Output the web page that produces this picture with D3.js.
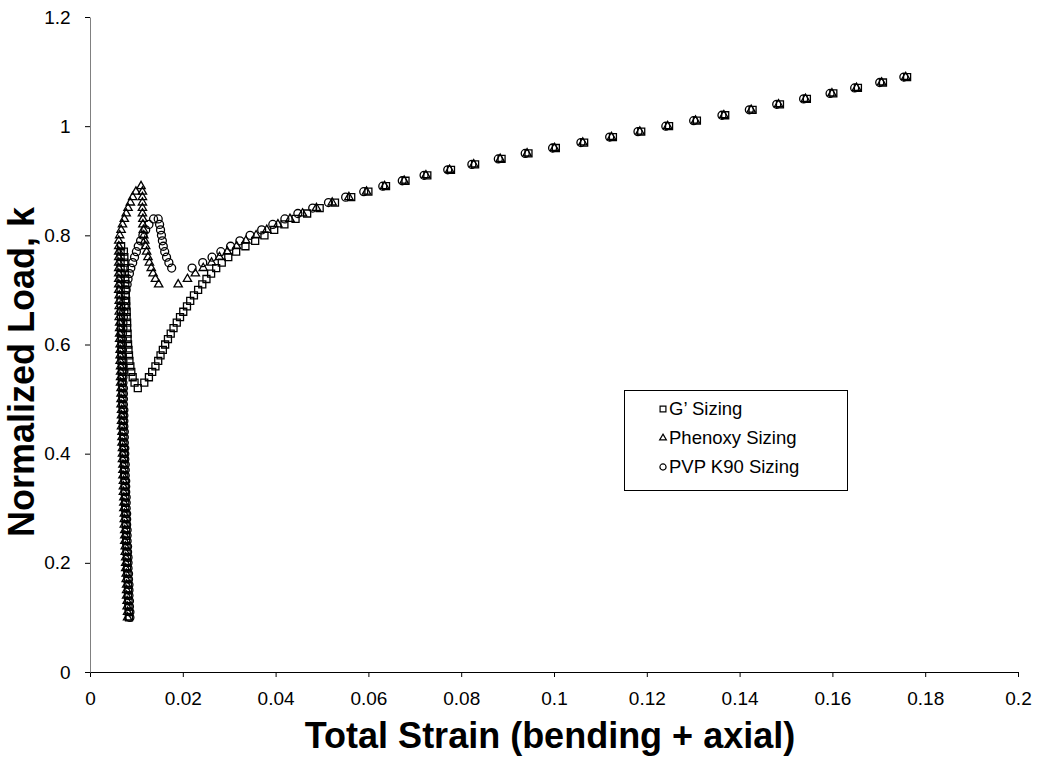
<!DOCTYPE html>
<html>
<head>
<meta charset="utf-8">
<script src="https://cdn.jsdelivr.net/npm/d3@7"></script>
<style>
  body { margin: 0; background: #fff; }
  svg { font-family: Arial, "Liberation Sans", sans-serif; }
</style>
</head>
<body>
<div id="root"></div>
<script>
// [strain, load] pairs
const gSizing = [
  [0.0084,0.10],[0.0084,0.11],[0.0083,0.12],[0.0083,0.13],[0.0082,0.14],[0.0082,0.15],[0.0082,0.16],[0.0081,0.17],
  [0.0081,0.18],[0.0080,0.19],[0.0080,0.20],[0.0080,0.21],[0.0079,0.22],[0.0079,0.23],[0.0078,0.24],[0.0078,0.25],
  [0.0078,0.26],[0.0077,0.27],[0.0077,0.28],[0.0077,0.29],[0.0076,0.30],[0.0076,0.31],[0.0076,0.32],[0.0075,0.33],
  [0.0075,0.34],[0.0075,0.35],[0.0074,0.36],[0.0074,0.37],[0.0074,0.38],[0.0073,0.39],[0.0073,0.40],[0.0073,0.41],
  [0.0072,0.42],[0.0072,0.43],[0.0072,0.44],[0.0071,0.45],[0.0071,0.46],[0.0071,0.47],[0.0071,0.48],[0.0070,0.49],
  [0.0070,0.50],[0.0070,0.51],[0.0070,0.52],[0.0069,0.53],[0.0069,0.54],[0.0069,0.55],[0.0069,0.56],[0.0068,0.57],
  [0.0068,0.58],[0.0068,0.59],[0.0068,0.60],[0.0068,0.61],[0.0067,0.62],[0.0067,0.63],[0.0067,0.64],[0.0067,0.65],
  [0.0067,0.66],[0.0067,0.67],[0.0066,0.68],[0.0066,0.69],[0.0066,0.70],[0.0066,0.71],[0.0066,0.72],[0.0066,0.73],
  [0.0066,0.74],[0.0066,0.75],[0.0066,0.76],[0.0066,0.77],[0.0067,0.78],
  [0.0073,0.77],[0.0074,0.76],[0.0074,0.75],[0.0075,0.74],[0.0075,0.73],[0.0076,0.72],[0.0076,0.71],[0.0077,0.70],
  [0.0077,0.69],[0.0078,0.68],[0.0078,0.67],[0.0079,0.66],[0.0079,0.65],[0.0080,0.64],[0.0080,0.63],[0.0081,0.62],
  [0.0081,0.61],[0.0082,0.60],[0.0083,0.59],[0.0084,0.58],[0.0085,0.57],[0.0087,0.56],[0.0089,0.55],[0.0092,0.54],
  [0.0096,0.53],[0.0103,0.52],
  [0.0117,0.53],[0.0127,0.54],[0.0134,0.55],[0.0141,0.56],[0.0147,0.57],[0.0152,0.58],[0.0157,0.59],[0.0162,0.60],
  [0.0168,0.61],[0.0174,0.62],[0.0180,0.63],[0.0187,0.64],[0.0194,0.65],[0.0201,0.66],[0.0209,0.67],[0.0216,0.68],
  [0.0224,0.69],[0.0233,0.70],[0.0242,0.71],[0.0251,0.72],[0.0261,0.73],[0.0272,0.74],[0.0284,0.75],[0.0298,0.76],
  [0.0315,0.77],[0.0335,0.78],[0.0356,0.79],[0.0376,0.80],[0.0397,0.81],[0.0419,0.82],[0.0443,0.83],[0.0468,0.84],
  [0.0495,0.85],[0.0528,0.86],[0.0563,0.87],[0.0600,0.88],[0.0638,0.89],[0.0680,0.90],[0.0727,0.91],[0.0778,0.92],
  [0.0830,0.93],[0.0887,0.94],[0.0945,0.95],[0.1004,0.96],[0.1065,0.97],[0.1127,0.98],[0.1188,0.99],[0.1248,1.00],
  [0.1308,1.01],[0.1369,1.02],[0.1428,1.03],[0.1487,1.04],[0.1545,1.05],[0.1602,1.06],[0.1655,1.07],[0.1709,1.08],
  [0.1761,1.09]
];

const phenoxySizing = [
  [0.0081,0.10],[0.0081,0.11],[0.0080,0.12],[0.0080,0.13],[0.0079,0.14],[0.0079,0.15],[0.0079,0.16],[0.0078,0.17],
  [0.0078,0.18],[0.0077,0.19],[0.0077,0.20],[0.0077,0.21],[0.0076,0.22],[0.0076,0.23],[0.0075,0.24],[0.0075,0.25],
  [0.0075,0.26],[0.0074,0.27],[0.0074,0.28],[0.0074,0.29],[0.0073,0.30],[0.0073,0.31],[0.0073,0.32],[0.0072,0.33],
  [0.0072,0.34],[0.0072,0.35],[0.0071,0.36],[0.0071,0.37],[0.0071,0.38],[0.0070,0.39],[0.0070,0.40],[0.0070,0.41],
  [0.0069,0.42],[0.0069,0.43],[0.0069,0.44],[0.0068,0.45],[0.0068,0.46],[0.0068,0.47],[0.0068,0.48],[0.0067,0.49],
  [0.0067,0.50],[0.0067,0.51],[0.0067,0.52],[0.0066,0.53],[0.0066,0.54],[0.0066,0.55],[0.0066,0.56],[0.0065,0.57],
  [0.0065,0.58],[0.0065,0.59],[0.0065,0.60],[0.0064,0.61],[0.0064,0.62],[0.0064,0.63],[0.0064,0.64],[0.0063,0.65],
  [0.0063,0.66],[0.0063,0.67],[0.0063,0.68],[0.0063,0.69],[0.0062,0.70],[0.0062,0.71],[0.0062,0.72],[0.0062,0.73],
  [0.0062,0.74],[0.0062,0.75],[0.0062,0.76],[0.0062,0.77],[0.0062,0.78],
  [0.0062,0.79],[0.0064,0.80],[0.0067,0.81],[0.0070,0.82],[0.0074,0.83],[0.0078,0.84],[0.0082,0.85],[0.0087,0.86],
  [0.0092,0.87],[0.0099,0.88],[0.0110,0.89],
  [0.0113,0.88],[0.0113,0.87],[0.0113,0.86],[0.0113,0.85],[0.0113,0.84],[0.0114,0.83],[0.0114,0.82],[0.0115,0.81],
  [0.0116,0.80],[0.0118,0.79],[0.0120,0.78],[0.0122,0.77],[0.0125,0.76],[0.0128,0.75],[0.0132,0.74],[0.0136,0.73],
  [0.0141,0.72],[0.0148,0.71],
  [0.0190,0.71],[0.0210,0.72],[0.0227,0.73],[0.0244,0.74],[0.0262,0.75],[0.0279,0.76],[0.0296,0.77],[0.0316,0.78],
  [0.0336,0.79],[0.0358,0.80],[0.0381,0.81],[0.0405,0.82],[0.0431,0.83],[0.0458,0.84],[0.0488,0.85],[0.0522,0.86],
  [0.0558,0.87],[0.0596,0.88],[0.0635,0.89],[0.0677,0.90],[0.0724,0.91],[0.0775,0.92],[0.0827,0.93],[0.0884,0.94],
  [0.0942,0.95],[0.1001,0.96],[0.1062,0.97],[0.1124,0.98],[0.1185,0.99],[0.1245,1.00],[0.1305,1.01],[0.1366,1.02],
  [0.1425,1.03],[0.1484,1.04],[0.1542,1.05],[0.1599,1.06],[0.1652,1.07],[0.1706,1.08],[0.1758,1.09]
];

const pvpSizing = [
  [0.0086,0.10],[0.0086,0.11],[0.0085,0.12],[0.0085,0.13],[0.0084,0.14],[0.0084,0.15],[0.0084,0.16],[0.0083,0.17],
  [0.0083,0.18],[0.0082,0.19],[0.0082,0.20],[0.0082,0.21],[0.0081,0.22],[0.0081,0.23],[0.0080,0.24],[0.0080,0.25],
  [0.0080,0.26],[0.0079,0.27],[0.0079,0.28],[0.0079,0.29],[0.0078,0.30],[0.0078,0.31],[0.0078,0.32],[0.0077,0.33],
  [0.0077,0.34],[0.0077,0.35],[0.0076,0.36],[0.0076,0.37],[0.0076,0.38],[0.0075,0.39],[0.0075,0.40],[0.0075,0.41],
  [0.0074,0.42],[0.0074,0.43],[0.0074,0.44],[0.0073,0.45],[0.0073,0.46],[0.0073,0.47],[0.0073,0.48],[0.0072,0.49],
  [0.0072,0.50],[0.0072,0.51],[0.0072,0.52],[0.0071,0.53],[0.0071,0.54],[0.0071,0.55],[0.0071,0.56],[0.0071,0.57],
  [0.0070,0.58],[0.0070,0.59],[0.0070,0.60],[0.0070,0.61],[0.0070,0.62],[0.0071,0.63],[0.0071,0.64],[0.0072,0.65],
  [0.0073,0.66],[0.0074,0.67],[0.0075,0.68],[0.0076,0.69],
  [0.0078,0.70],[0.0080,0.71],[0.0082,0.72],[0.0085,0.73],[0.0088,0.74],[0.0092,0.75],[0.0096,0.76],[0.0100,0.77],
  [0.0104,0.78],[0.0109,0.79],[0.0114,0.80],[0.0120,0.81],[0.0127,0.82],[0.0137,0.83],[0.0147,0.83],
  [0.0150,0.82],[0.0152,0.81],[0.0154,0.80],[0.0156,0.79],[0.0158,0.78],[0.0161,0.77],[0.0165,0.76],[0.0170,0.75],
  [0.0176,0.74],
  [0.0220,0.74],[0.0243,0.75],[0.0263,0.76],[0.0282,0.77],[0.0303,0.78],[0.0323,0.79],[0.0345,0.80],[0.0370,0.81],
  [0.0394,0.82],[0.0420,0.83],[0.0448,0.84],[0.0480,0.85],[0.0514,0.86],[0.0551,0.87],[0.0590,0.88],[0.0631,0.89],
  [0.0673,0.90],[0.0720,0.91],[0.0771,0.92],[0.0823,0.93],[0.0880,0.94],[0.0938,0.95],[0.0997,0.96],[0.1058,0.97],
  [0.1120,0.98],[0.1181,0.99],[0.1241,1.00],[0.1301,1.01],[0.1362,1.02],[0.1421,1.03],[0.1480,1.04],[0.1538,1.05],
  [0.1595,1.06],[0.1648,1.07],[0.1702,1.08],[0.1754,1.09]
];

const seriesNames = ['G\u2019 Sizing', 'Phenoxy Sizing', 'PVP K90 Sizing'];
const xTicks = [0, 0.02, 0.04, 0.06, 0.08, 0.1, 0.12, 0.14, 0.16, 0.18, 0.2];
const yTicks = [0, 0.2, 0.4, 0.6, 0.8, 1, 1.2];

const width = 1038, height = 757;
const margin = { left: 90, right: 20, top: 17, bottom: 85 };

const svg = d3.select('#root').append('svg')
  .attr('width', width)
  .attr('height', height);

const x = d3.scaleLinear().domain([0, 0.2]).range([margin.left, width - margin.right]);
const y = d3.scaleLinear().domain([0, 1.2]).range([height - margin.bottom, margin.top]);

// axes
const xAxis = svg.append('g')
  .attr('transform', `translate(0, ${y(0)})`)
  .call(d3.axisBottom(x).tickValues(xTicks).tickFormat(d => String(d)).tickSize(5).tickSizeOuter(0));
xAxis.select('.domain').attr('stroke', '#000');
xAxis.selectAll('text').attr('font-size', 19).attr('fill', '#000').attr('dy', '1.3em');

const yAxis = svg.append('g')
  .attr('transform', `translate(${x(0)}, 0)`)
  .call(d3.axisLeft(y).tickValues(yTicks).tickFormat(d => String(d)).tickSize(5).tickSizeOuter(0));
yAxis.select('.domain').attr('stroke', '#808080');
yAxis.selectAll('text').attr('font-size', 19).attr('fill', '#000').attr('dx', '-0.6em');

// axis titles
svg.append('text')
  .attr('x', (x(0) + x(0.2)) / 2 - 4)
  .attr('y', 748)
  .attr('text-anchor', 'middle')
  .attr('font-size', 36)
  .attr('font-weight', 'bold')
  .text('Total Strain (bending + axial)');

svg.append('text')
  .attr('transform', `translate(34, 372) rotate(-90)`)
  .attr('text-anchor', 'middle')
  .attr('font-size', 36)
  .attr('font-weight', 'bold')
  .text('Normalized Load, k');

// markers
const symbols = [
  d3.symbol().type(d3.symbolSquare).size(49),
  d3.symbol().type(d3.symbolTriangle).size(30),
  d3.symbol().type(d3.symbolCircle).size(50)
];
const allSeries = [gSizing, phenoxySizing, pvpSizing];

allSeries.forEach((data, i) => {
  svg.append('g')
    .selectAll('path')
    .data(data)
    .join('path')
    .attr('d', symbols[i])
    .attr('transform', d => `translate(${x(d[0])}, ${y(d[1])})`)
    .attr('fill', 'none')
    .attr('stroke', '#000')
    .attr('stroke-width', 1.3);
});

// legend
const legend = svg.append('g').attr('transform', 'translate(624, 390)');
legend.append('rect')
  .attr('x', 0.5).attr('y', 0.5)
  .attr('width', 223).attr('height', 100)
  .attr('fill', '#fff')
  .attr('stroke', '#000');

const legendSymbols = [
  d3.symbol().type(d3.symbolSquare).size(34),
  d3.symbol().type(d3.symbolTriangle).size(20),
  d3.symbol().type(d3.symbolCircle).size(30)
];
seriesNames.forEach((name, i) => {
  const row = legend.append('g').attr('transform', `translate(0, ${19 + i * 29})`);
  row.append('path')
    .attr('d', legendSymbols[i])
    .attr('transform', 'translate(39, 0)')
    .attr('fill', 'none')
    .attr('stroke', '#000')
    .attr('stroke-width', 1.2);
  row.append('text')
    .attr('x', 45)
    .attr('y', 6)
    .attr('font-size', 18.5)
    .text(name);
});
</script>
</body>
</html>
